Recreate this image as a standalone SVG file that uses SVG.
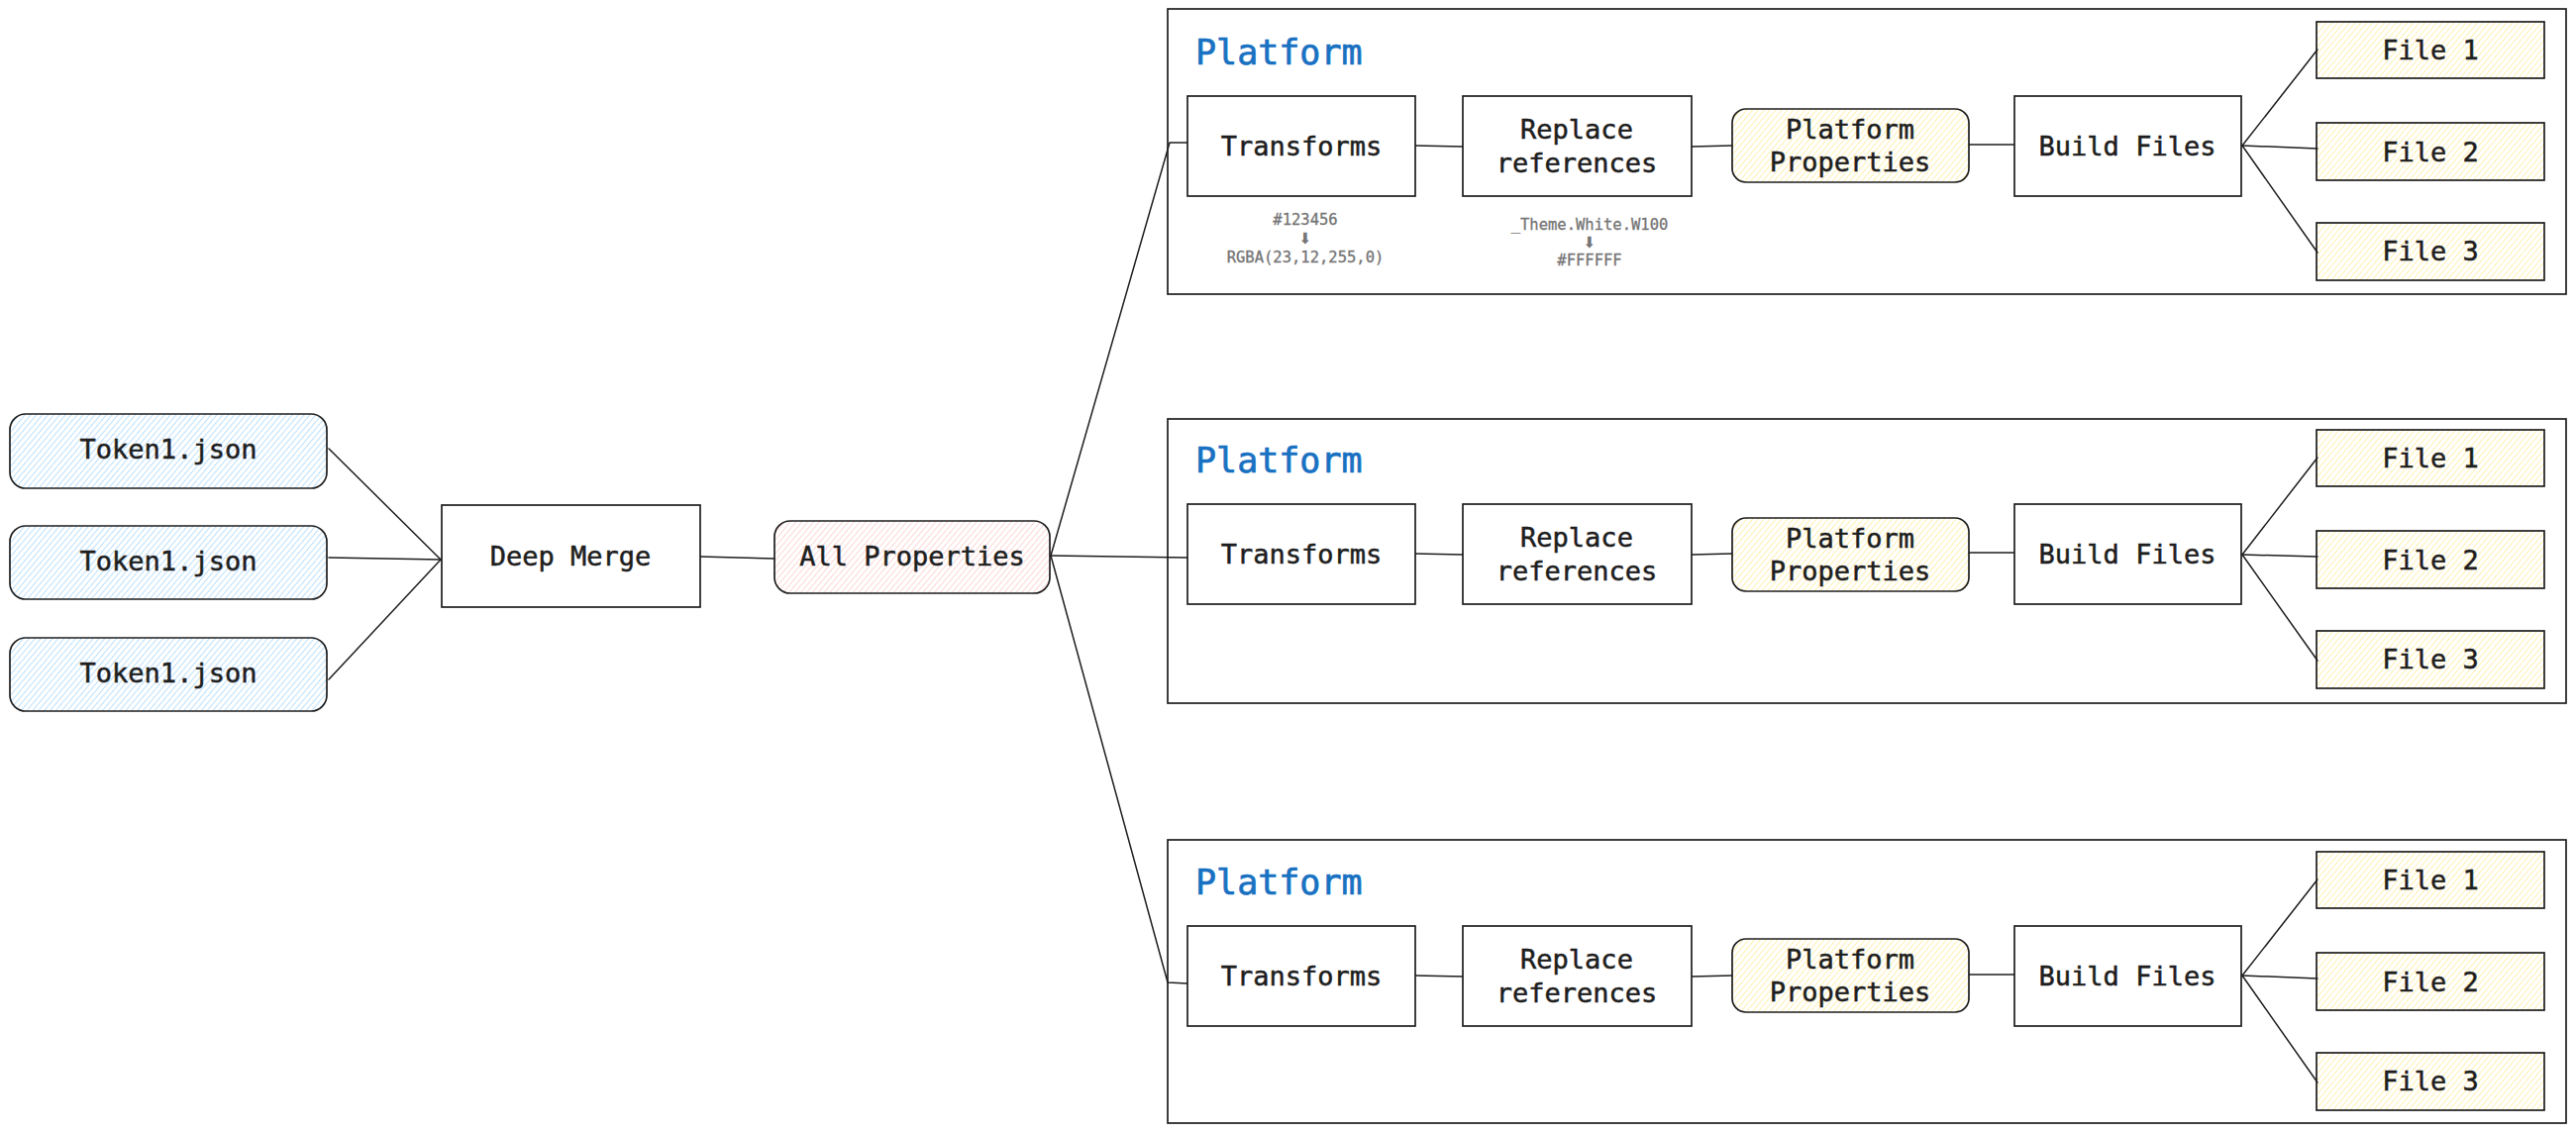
<svg xmlns="http://www.w3.org/2000/svg" width="2601" height="1145" viewBox="0 0 2601 1145">
<defs>
<pattern id="hBlue" width="4.5" height="4.5" patternUnits="userSpaceOnUse" patternTransform="rotate(40)"><line x1="0" y1="0" x2="0" y2="4.5" stroke="#a5d8ff" stroke-width="1.5"/></pattern>
<pattern id="hRed" width="4.5" height="4.5" patternUnits="userSpaceOnUse" patternTransform="rotate(40)"><line x1="0" y1="0" x2="0" y2="4.5" stroke="#ffc9c9" stroke-width="1.5"/></pattern>
<pattern id="hYellow" width="4.5" height="4.5" patternUnits="userSpaceOnUse" patternTransform="rotate(40)"><line x1="0" y1="0" x2="0" y2="4.5" stroke="#ffec99" stroke-width="1.5"/></pattern>
</defs>
<style>
.box{fill:#ffffff;stroke:#1e1e1e;stroke-width:1.7}
.blue{fill:url(#hBlue);stroke:#1e1e1e;stroke-width:1.7}
.red{fill:url(#hRed);stroke:#1e1e1e;stroke-width:1.7}
.yellow{fill:url(#hYellow);stroke:#1e1e1e;stroke-width:1.7}
.frame{fill:none;stroke:#1e1e1e;stroke-width:1.7}
.t{font-family:"DejaVu Sans Mono","Liberation Mono",monospace;font-size:27px;fill:#1e1e1e;stroke:#1e1e1e;stroke-width:0.5;text-anchor:middle}
.title{font-family:"DejaVu Sans Mono","Liberation Mono",monospace;font-size:35px;fill:#1971c2;stroke:#1971c2;stroke-width:0.7}
.note{font-family:"DejaVu Sans Mono","Liberation Mono",monospace;font-size:15.5px;fill:#757575;stroke:#757575;stroke-width:0.3;text-anchor:middle}
.arrow{font-family:"DejaVu Sans","Noto Sans",sans-serif;font-size:15.5px;fill:#757575;text-anchor:middle}
.c{fill:none;stroke:#1e1e1e;stroke-width:1.5;stroke-linejoin:round;stroke-linecap:round}
</style>
<rect width="2601" height="1145" fill="#ffffff"/>

<g id="connectors">
<path class="c" d="M332,453 L445,565"/>
<path class="c" d="M332,563 L445,565"/>
<path class="c" d="M332,686 L445,565"/>
<path class="c" d="M707,562 L782,564"/>
<path class="c" d="M1061,561 L1181,144 L1199,144"/>
<path class="c" d="M1061,561 L1199,563"/>
<path class="c" d="M1061,561 L1179,992 L1199,993"/>
<path class="c" d="M1429,147 L1477,148"/>
<path class="c" d="M1708,148 L1749,147"/>
<path class="c" d="M1988,146 L2034,146"/>
<path class="c" d="M2264,147 L2340,50"/>
<path class="c" d="M2264,147 L2340,150"/>
<path class="c" d="M2264,147 L2340,255"/>
<path class="c" d="M1429,559 L1477,560"/>
<path class="c" d="M1708,560 L1749,559"/>
<path class="c" d="M1988,558 L2034,558"/>
<path class="c" d="M2264,560 L2340,462"/>
<path class="c" d="M2264,560 L2340,562"/>
<path class="c" d="M2264,560 L2340,667"/>
<path class="c" d="M1429,985 L1477,986"/>
<path class="c" d="M1708,986 L1749,985"/>
<path class="c" d="M1988,984 L2034,984"/>
<path class="c" d="M2264,985 L2340,888"/>
<path class="c" d="M2264,985 L2340,988"/>
<path class="c" d="M2264,985 L2340,1093"/>
</g>

<g id="token1"><rect class="blue" x="10" y="418" width="320" height="75" rx="16"/><text class="t" x="170" y="463">Token1.json</text></g>
<g id="token2"><rect class="blue" x="10" y="531" width="320" height="74" rx="16"/><text class="t" x="170" y="576">Token1.json</text></g>
<g id="token3"><rect class="blue" x="10" y="644" width="320" height="74" rx="16"/><text class="t" x="170" y="689">Token1.json</text></g>
<g id="deep-merge"><rect class="box" x="446" y="510" width="261" height="103"/><text class="t" x="576" y="571">Deep Merge</text></g>
<g id="all-properties"><rect class="red" x="782" y="526" width="278" height="73" rx="16"/><text class="t" x="921" y="571">All Properties</text></g>

<g id="platform1">
<rect class="frame" x="1179" y="9" width="1412" height="288"/>
<text class="title" x="1207" y="65">Platform</text>
<g id="p1-transforms"><rect class="box" x="1199" y="97" width="230" height="101"/><text class="t" x="1314" y="157">Transforms</text></g>
<g id="p1-transforms-note"><text class="note" x="1318" y="227">#123456</text><text class="arrow" x="1318" y="246">⬇</text><text class="note" x="1318" y="265">RGBA(23,12,255,0)</text></g>
<g id="p1-replace"><rect class="box" x="1477" y="97" width="231" height="101"/><text class="t" x="1592" y="140">Replace</text><text class="t" x="1592" y="174">references</text></g>
<g id="p1-replace-note"><text class="note" x="1605" y="232">_Theme.White.W100</text><text class="arrow" x="1605" y="250">⬇</text><text class="note" x="1605" y="268">#FFFFFF</text></g>
<g id="p1-platform-properties"><rect class="yellow" x="1749" y="110" width="239" height="74" rx="14"/><text class="t" x="1868" y="140">Platform</text><text class="t" x="1868" y="173">Properties</text></g>
<g id="p1-build-files"><rect class="box" x="2034" y="97" width="229" height="101"/><text class="t" x="2148" y="157">Build Files</text></g>
<g id="p1-file1"><rect class="yellow" x="2339" y="22" width="230" height="57"/><text class="t" x="2454" y="60">File 1</text></g>
<g id="p1-file2"><rect class="yellow" x="2339" y="124" width="230" height="58"/><text class="t" x="2454" y="163">File 2</text></g>
<g id="p1-file3"><rect class="yellow" x="2339" y="225" width="230" height="58"/><text class="t" x="2454" y="263">File 3</text></g>
</g>

<g id="platform2">
<rect class="frame" x="1179" y="423" width="1412" height="287"/>
<text class="title" x="1207" y="477">Platform</text>
<g id="p2-transforms"><rect class="box" x="1199" y="509" width="230" height="101"/><text class="t" x="1314" y="569">Transforms</text></g>
<g id="p2-replace"><rect class="box" x="1477" y="509" width="231" height="101"/><text class="t" x="1592" y="552">Replace</text><text class="t" x="1592" y="586">references</text></g>
<g id="p2-platform-properties"><rect class="yellow" x="1749" y="523" width="239" height="74" rx="14"/><text class="t" x="1868" y="553">Platform</text><text class="t" x="1868" y="586">Properties</text></g>
<g id="p2-build-files"><rect class="box" x="2034" y="509" width="229" height="101"/><text class="t" x="2148" y="569">Build Files</text></g>
<g id="p2-file1"><rect class="yellow" x="2339" y="434" width="230" height="57"/><text class="t" x="2454" y="472">File 1</text></g>
<g id="p2-file2"><rect class="yellow" x="2339" y="536" width="230" height="58"/><text class="t" x="2454" y="575">File 2</text></g>
<g id="p2-file3"><rect class="yellow" x="2339" y="637" width="230" height="58"/><text class="t" x="2454" y="675">File 3</text></g>
</g>

<g id="platform3">
<rect class="frame" x="1179" y="848" width="1412" height="286"/>
<text class="title" x="1207" y="903">Platform</text>
<g id="p3-transforms"><rect class="box" x="1199" y="935" width="230" height="101"/><text class="t" x="1314" y="995">Transforms</text></g>
<g id="p3-replace"><rect class="box" x="1477" y="935" width="231" height="101"/><text class="t" x="1592" y="978">Replace</text><text class="t" x="1592" y="1012">references</text></g>
<g id="p3-platform-properties"><rect class="yellow" x="1749" y="948" width="239" height="74" rx="14"/><text class="t" x="1868" y="978">Platform</text><text class="t" x="1868" y="1011">Properties</text></g>
<g id="p3-build-files"><rect class="box" x="2034" y="935" width="229" height="101"/><text class="t" x="2148" y="995">Build Files</text></g>
<g id="p3-file1"><rect class="yellow" x="2339" y="860" width="230" height="57"/><text class="t" x="2454" y="898">File 1</text></g>
<g id="p3-file2"><rect class="yellow" x="2339" y="962" width="230" height="58"/><text class="t" x="2454" y="1001">File 2</text></g>
<g id="p3-file3"><rect class="yellow" x="2339" y="1063" width="230" height="58"/><text class="t" x="2454" y="1101">File 3</text></g>
</g>
</svg>
